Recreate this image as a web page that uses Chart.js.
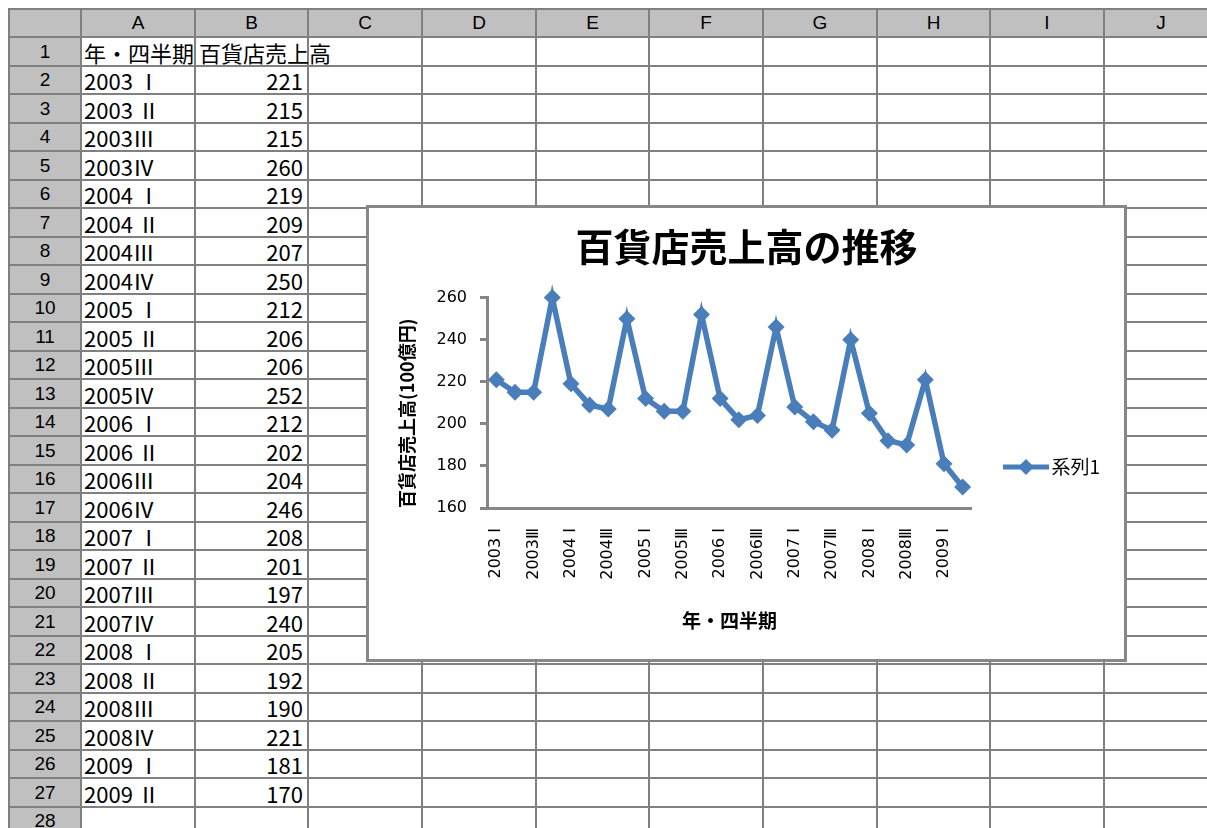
<!DOCTYPE html>
<html lang="ja">
<head>
<meta charset="UTF-8">
<title>百貨店売上高の推移</title>
<script src="https://cdn.jsdelivr.net/npm/chart.js"></script>
<style>
  body { margin: 0; background: #fff; width: 1207px; height: 828px; overflow: hidden; position: relative;
         font-family: "Noto Sans CJK JP", sans-serif; }
  .hdr { position: absolute; background: #c0c0c0; }
  .ln { position: absolute; background: #808080; }
  .txt { position: absolute; display: flex; align-items: center; white-space: nowrap; font-size: 22px; color: #000; }
  .head { justify-content: center; font-family: "Liberation Sans", Arial, sans-serif; font-size: 19px; }
  .num { justify-content: flex-end; }
  #chartBox { position: absolute; left: 366px; top: 205px; width: 761px; height: 457px;
              border: 3px solid #878787; box-sizing: border-box; background: #fff; }
</style>
</head>
<body>
<div id="sheet"></div>
<div id="chartBox"><canvas id="chart" width="755" height="451"></canvas></div>

<script>
// data
const quarters = [
  "2003 Ⅰ", "2003 Ⅱ", "2003Ⅲ", "2003Ⅳ",
  "2004 Ⅰ", "2004 Ⅱ", "2004Ⅲ", "2004Ⅳ",
  "2005 Ⅰ", "2005 Ⅱ", "2005Ⅲ", "2005Ⅳ",
  "2006 Ⅰ", "2006 Ⅱ", "2006Ⅲ", "2006Ⅳ",
  "2007 Ⅰ", "2007 Ⅱ", "2007Ⅲ", "2007Ⅳ",
  "2008 Ⅰ", "2008 Ⅱ", "2008Ⅲ", "2008Ⅳ",
  "2009 Ⅰ", "2009 Ⅱ"
];
const sales = [221, 215, 215, 260, 219, 209, 207, 250, 212, 206, 206, 252, 212,
               202, 204, 246, 208, 201, 197, 240, 205, 192, 190, 221, 181, 170];
const colLetters = ["A", "B", "C", "D", "E", "F", "G", "H", "I", "J"];
const headerA = "年・四半期";
const headerB = "百貨店売上高";
const seriesName = "系列1";

// sheet grid
const sheet = document.getElementById("sheet");
const colX = [9, 81, 195, 308, 422, 536, 649, 763, 877, 990, 1104, 1218];
const rowTop = (r) => Math.round(37 + 28.5 * (r - 1)); // header row is 9..37
const rowH = (r) => rowTop(r + 1) - rowTop(r);
const nRows = 28;

function add(cls, x, y, w, h, text) {
  const d = document.createElement("div");
  d.className = cls;
  d.style.left = x + "px"; d.style.top = y + "px";
  d.style.width = w + "px"; d.style.height = h + "px";
  if (text !== undefined) d.textContent = text;
  sheet.appendChild(d);
  return d;
}

add("hdr", 9, 9, 1198, 28);
add("hdr", 9, 9, 72, 819);

colX.forEach((x) => add("ln", x - 1, 8, 2, 820));
add("ln", 8, 8, 1199, 2);
for (let r = 1; r <= nRows + 1; r++) add("ln", 8, rowTop(r) - 1, 1199, 2);

colLetters.forEach((c, i) => add("txt head", colX[i + 1], 9, colX[i + 2] - colX[i + 1], 28, c));
for (let r = 1; r <= nRows; r++) add("txt head", 9, rowTop(r), 72, rowH(r), String(r));

add("txt", colX[1] + 3, rowTop(1), 200, rowH(1), headerA);
add("txt", colX[2] + 4, rowTop(1), 200, rowH(1), headerB);
quarters.forEach((q, i) => {
  const r = i + 2;
  add("txt", colX[1] + 3, rowTop(r), 108, rowH(r), q);
  add("txt num", colX[2], rowTop(r), colX[3] - colX[2] - 5, rowH(r), sales[i]);
});

// legend marker: line with a diamond
const mark = document.createElement("canvas");
mark.width = 46; mark.height = 18;
const mc = mark.getContext("2d");
mc.strokeStyle = "#4a7ebb"; mc.lineWidth = 5;
mc.beginPath(); mc.moveTo(0, 9); mc.lineTo(46, 9); mc.stroke();
mc.fillStyle = "#4a7ebb";
mc.beginPath(); mc.moveTo(23, 1); mc.lineTo(31, 9); mc.lineTo(23, 17); mc.lineTo(15, 9); mc.closePath(); mc.fill();

// center the chart title over the whole chart box, not just left of the legend padding
const fullWidthTitle = {
  id: "fullWidthTitle",
  afterLayout(chart) {
    if (chart.titleBlock) { chart.titleBlock.left = 0; chart.titleBlock.right = chart.width; }
  }
};

const cjk = '"Noto Sans CJK JP", sans-serif';

new Chart(document.getElementById("chart"), {
  type: "line",
  data: {
    labels: quarters,
    datasets: [{
      label: seriesName,
      data: sales,
      borderColor: "#4a7ebb",
      backgroundColor: "#4a7ebb",
      borderWidth: 5.5,
      pointStyle: "rectRot",
      pointRadius: 8.5,
      pointBorderWidth: 0,
      tension: 0,
      clip: false
    }]
  },
  options: {
    responsive: false,
    animation: false,
    layout: { padding: { left: 0, right: 14, top: 0, bottom: 23 } },
    plugins: {
      title: {
        display: true, text: "百貨店売上高の推移", color: "#000",
        font: { family: cjk, size: 38, weight: "bold" },
        padding: { top: 16, bottom: 28 }
      },
      legend: {
        position: "right", align: "center",
        // empty title only pushes the legend entry down
        title: { display: true, text: " ", font: { size: 10 }, padding: { top: 78, bottom: 0 } },
        labels: {
          usePointStyle: true, pointStyle: mark, pointStyleWidth: 32,
          color: "#000", font: { family: cjk, size: 19 }, padding: 38
        }
      },
      tooltip: { enabled: false }
    },
    scales: {
      x: {
        offset: true,
        grid: { display: false },
        border: { color: "#868686", width: 3 },
        ticks: {
          autoSkip: false, maxRotation: 90, minRotation: 90, padding: 12,
          color: "#000", font: { family: '"DejaVu Sans", ' + cjk, size: 16 },
          callback: function (v, i) { return i % 2 === 0 ? this.getLabelForValue(v) : ""; }
        },
        title: {
          display: true, text: "年・四半期", color: "#000",
          font: { family: cjk, size: 19, weight: "bold" },
          padding: { top: 0, bottom: 4 }
        },
        afterFit: (s) => { s.height = 128; }
      },
      y: {
        min: 160, max: 260,
        ticks: { stepSize: 20, padding: 13, color: "#000", font: { family: '"DejaVu Sans", sans-serif', size: 16 } },
        grid: { drawOnChartArea: false, tickLength: 7, color: "#868686", lineWidth: 3 },
        border: { color: "#868686", width: 3 },
        title: {
          display: true, text: "百貨店売上高(100億円)", color: "#000", align: "start",
          font: { family: cjk, size: 18, weight: "bold" },
          padding: { top: 27, bottom: 0 }
        },
        afterFit: (s) => { s.width = 118; }
      }
    }
  },
  plugins: [fullWidthTitle]
});
</script>
</body>
</html>
